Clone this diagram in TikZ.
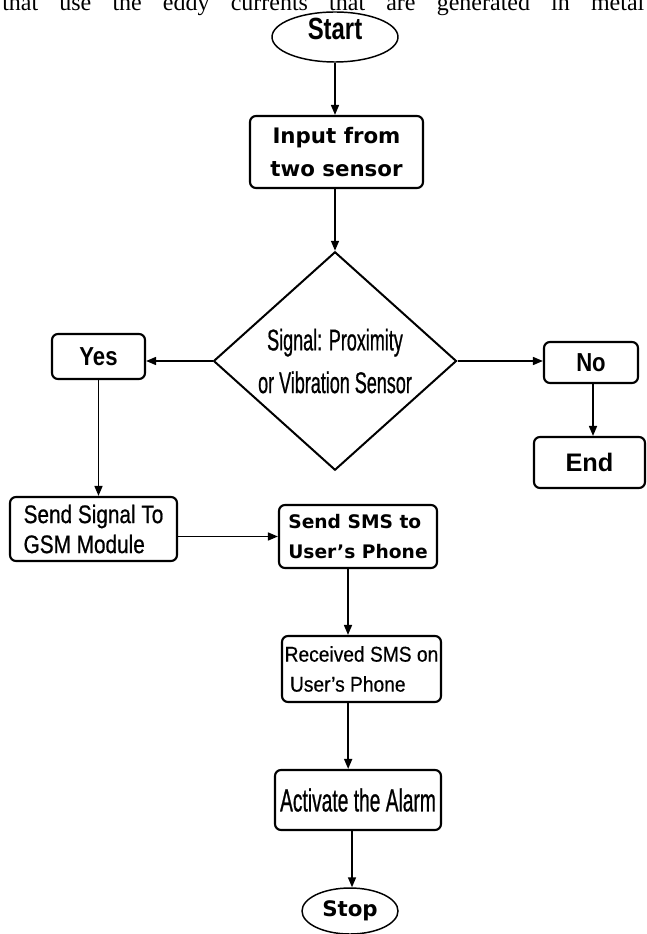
\documentclass[tikz,border=0pt]{standalone}
\usepackage{fontspec}
\setmainfont{Liberation Serif}
\newfontfamily\condfont[FakeStretch=0.6,FakeBold=0.6]{Liberation Sans}
\newfontfamily\startfont[FakeStretch=0.78]{Liberation Sans}
\newfontfamily\yesfont[FakeStretch=0.85]{Liberation Sans}
\newfontfamily\gothfont[FakeStretch=0.82,FakeBold=0.7]{Liberation Sans}
\newfontfamily\recvfont[FakeStretch=0.9,FakeBold=0.5]{Liberation Sans}
\newfontfamily\plainsans{Liberation Sans}
\newfontfamily\verdfont{DejaVu Sans}
\usetikzlibrary{shapes.geometric,arrows.meta}
\begin{document}
\begin{tikzpicture}[x=0.75pt,y=-0.75pt,
  box/.style={draw, line width=1.6pt, rounded corners=4.5pt, inner sep=0pt},
  oval/.style={draw, ellipse, line width=1.1pt, inner sep=0pt},
  conn/.style={line width=1.2pt, -{Triangle[length=7.5pt,width=6pt]}}]
\clip (0,0) rectangle (646,934);
\useasboundingbox (0,0) rectangle (646,934);
\fill[white] (0,0) rectangle (646,934);

\node[anchor=base west, inner sep=0pt, font=\fontsize{18pt}{20pt}\selectfont] (toptext) at (2,10.5)
  {\makebox[481.5pt][s]{that use the eddy currents that are generated in metal}};

\node[oval, minimum width=94.5pt, minimum height=37.5pt, text height=4.5pt, text depth=0pt,
  font=\startfont\bfseries\fontsize{23pt}{25pt}\selectfont] (start) at (335,37) {Start};

\node[box, minimum width=129.75pt, minimum height=54pt, align=center,
  font=\verdfont\bfseries\fontsize{16pt}{24.75pt}\selectfont] (input) at (336.5,152) {Input from\\two sensor};

\node[draw, diamond, line width=1.5pt, inner sep=0pt, minimum width=182.25pt, minimum height=129.75pt,
  align=center, font=\condfont\fontsize{22.5pt}{32pt}\selectfont] (dec) at (335,361) {Signal: Proximity\\or Vibration Sensor};

\node[box, minimum width=69.75pt, minimum height=33.75pt,
  font=\yesfont\bfseries\fontsize{19.5pt}{21pt}\selectfont] (yes) at (98.5,356.5) {Yes};

\node[box, minimum width=70.5pt, minimum height=30.75pt,
  font=\yesfont\bfseries\fontsize{19.5pt}{21pt}\selectfont] (no) at (591,362.5) {No};

\node[box, minimum width=83.25pt, minimum height=38.25pt,
  font=\plainsans\bfseries\fontsize{19pt}{21pt}\selectfont] (end) at (589.5,462.5) {End};

\node[box, minimum width=125.25pt, minimum height=48pt, align=left,
  font=\gothfont\fontsize{19pt}{22.5pt}\selectfont] (sendsig) at (93.5,529) {Send Signal To\\GSM Module};

\node[box, minimum width=118.5pt, minimum height=47.25pt, align=left,
  font=\verdfont\bfseries\fontsize{14pt}{22.5pt}\selectfont] (sendsms) at (358,536.5) {Send SMS to\\User’s Phone};

\node[box, minimum width=119.25pt, minimum height=49.5pt, align=left,
  font=\recvfont\fontsize{16pt}{22.5pt}\selectfont] (recv) at (361.5,669) {Received SMS on\\\hspace{4pt}User’s Phone};

\node[box, minimum width=124.5pt, minimum height=45pt,
  font=\condfont\fontsize{24pt}{26pt}\selectfont] (activate) at (358,800) {Activate the Alarm};

\node[oval, minimum width=72pt, minimum height=34.5pt,
  font=\verdfont\bfseries\fontsize{16pt}{18pt}\selectfont] (stop) at (350,911) {Stop};

\draw[conn] (start.south) -- (start.south |- input.north);
\draw[conn] (input.south -| dec.north) -- (dec.north);
\draw[conn] (dec.west) -- (dec.west -| yes.east);
\draw[conn] (dec.east) -- (dec.east -| no.west);
\draw[conn] ([xshift=1.5pt]no.south) -- ([xshift=1.5pt]no.south |- end.north);
\draw[conn] (yes.south) -- (yes.south |- sendsig.north);
\draw[conn] (sendsms.west -| sendsig.east) -- (sendsms.west);
\draw[conn] ([xshift=-7.5pt]sendsms.south) -- ([xshift=-7.5pt]sendsms.south |- recv.north);
\draw[conn] ([xshift=-10pt]recv.south) -- ([xshift=-10pt]recv.south |- activate.north);
\draw[conn] ([xshift=-4.5pt]activate.south) -- ([xshift=-4.5pt]activate.south |- stop.north);
\end{tikzpicture}
\end{document}
